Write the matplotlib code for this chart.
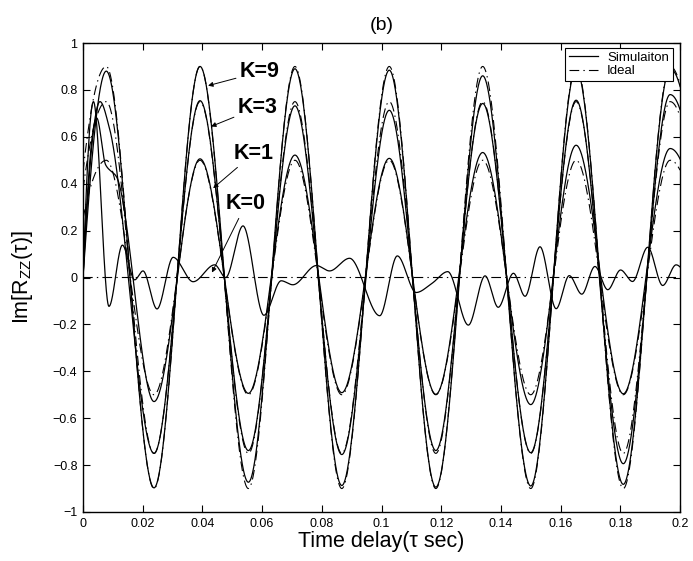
import numpy as np
import matplotlib
matplotlib.use("Agg")
import matplotlib.pyplot as plt
from matplotlib.ticker import FixedLocator, FuncFormatter

plt.rcParams['font.family'] = ['Liberation Sans', 'DejaVu Sans']
plt.rcParams['mathtext.fontset'] = 'custom'
plt.rcParams['mathtext.rm'] = 'Liberation Sans'
plt.rcParams['mathtext.default'] = 'regular'
plt.rcParams['lines.scale_dashes'] = False

# extrema (seconds); first/last entries lie outside the axis
ideal_t = [-0.0079, 0.0078, 0.0238, 0.0392, 0.0554, 0.0710, 0.0867, 0.1026,
           0.1182, 0.1339, 0.1500, 0.1652, 0.1810, 0.1967, 0.2127]
ideal_amp = {'K=9': 0.9, 'K=3': 0.75, 'K=1': 0.5, 'K=0': 0.0}

# simulated curves: (time, value) points
sim_k9_t = [0, 0.0078, 0.0238, 0.0392, 0.0554, 0.0710, 0.0867, 0.1026, 0.1182,
            0.1339, 0.1500, 0.1652, 0.1810, 0.1967, 0.2127]
sim_k9_v = [0, 0.88, -0.897, 0.90, -0.873, 0.89, -0.887, 0.884, -0.894,
            0.86, -0.889, 0.89, -0.882, 0.89, -0.88]

sim_k3_t = [0, 0.0057, 0.0088, 0.0238, 0.0392, 0.0554, 0.0710, 0.0867, 0.1026,
            0.1182, 0.1339, 0.1500, 0.1652, 0.1810, 0.1967, 0.2127]
sim_k3_v = [0, 0.75, 0.64, -0.75, 0.754, -0.738, 0.732, -0.755, 0.713,
            -0.738, 0.742, -0.747, 0.756, -0.794, 0.78, -0.75]

sim_k1_t = [0, 0.0046, 0.0076, 0.0112, 0.0238, 0.0392, 0.0554, 0.0710, 0.0867,
            0.1026, 0.1182, 0.1339, 0.1500, 0.1652, 0.1810, 0.1967, 0.2127]
sim_k1_v = [0, 0.68, 0.48, 0.43, -0.529, 0.506, -0.494, 0.522, -0.491,
            0.508, -0.498, 0.533, -0.542, 0.564, -0.496, 0.55, -0.5]

sim_k0_t = [0, 0.0035, 0.0087, 0.0132, 0.0173, 0.0201, 0.0248, 0.0302, 0.0369,
            0.0441, 0.0478, 0.0536, 0.0606, 0.0664, 0.0703, 0.0782, 0.0826,
            0.0893, 0.0994, 0.1053, 0.1116, 0.1170, 0.1222, 0.1291, 0.1347,
            0.1391, 0.1442, 0.1481, 0.1531, 0.1585, 0.1629, 0.1671, 0.1715,
            0.1758, 0.1801, 0.1841, 0.1892, 0.1942, 0.1987, 0.2]
sim_k0_v = [0, 0.75, -0.123, 0.138, -0.01, 0.028, -0.134, 0.086, -0.018,
            0.054, 0.0, 0.22, -0.161, -0.014, -0.031, 0.051, 0.028,
            0.082, -0.163, 0.092, -0.064, -0.024, 0.025, -0.203, 0.007,
            -0.127, 0.018, -0.08, 0.131, -0.133, 0.008, -0.071, 0.047,
            -0.052, 0.032, -0.017, 0.129, -0.034, 0.054, 0.045]

x_ticks = [0, 0.02, 0.04, 0.06, 0.08, 0.1, 0.12, 0.14, 0.16, 0.18, 0.2]
y_ticks = [-1, -0.8, -0.6, -0.4, -0.2, 0, 0.2, 0.4, 0.6, 0.8, 1]

labels = ['K=9', 'K=3', 'K=1', 'K=0']
label_xy = [(0.0593, 0.877), (0.0586, 0.725), (0.0573, 0.530), (0.0546, 0.314)]
arrow_xy = [(0.0419, 0.818), (0.0429, 0.644), (0.0436, 0.381), (0.0432, 0.021)]


def pchip(x, y, xs):
    # shape preserving cubic through the read points
    x = np.asarray(x, float)
    y = np.asarray(y, float)
    h = np.diff(x)
    d = np.diff(y) / h
    m = np.zeros_like(y)
    for k in range(1, len(x) - 1):
        if d[k - 1] * d[k] > 0:
            w1 = 2 * h[k] + h[k - 1]
            w2 = h[k] + 2 * h[k - 1]
            m[k] = (w1 + w2) / (w1 / d[k - 1] + w2 / d[k])

    def end(h0, h1, d0, d1):
        s = ((2 * h0 + h1) * d0 - h0 * d1) / (h0 + h1)
        if np.sign(s) != np.sign(d0):
            return 0.0
        if np.sign(d0) != np.sign(d1) and abs(s) > abs(3 * d0):
            return 3 * d0
        return s
    m[0] = end(h[0], h[1], d[0], d[1])
    m[-1] = end(h[-1], h[-2], d[-1], d[-2])
    i = np.clip(np.searchsorted(x, xs) - 1, 0, len(h) - 1)
    s = (xs - x[i]) / h[i]
    h00 = 2 * s**3 - 3 * s**2 + 1
    h10 = s**3 - 2 * s**2 + s
    h01 = -2 * s**3 + 3 * s**2
    h11 = s**3 - s**2
    return h00 * y[i] + h10 * h[i] * m[i] + h01 * y[i + 1] + h11 * h[i] * m[i + 1]


fig = plt.figure(figsize=(6.93, 5.61), dpi=100)
ax = fig.add_axes([83 / 693, 49 / 561, 597 / 693, 469 / 561])

dash = (0, (7, 3, 1, 3))
tt = np.linspace(-0.0079, 0.2127, 4000)
for lab in labels:
    a = ideal_amp[lab]
    vals = [a * (1 if k % 2 else -1) for k in range(len(ideal_t))]
    ax.plot(tt, pchip(ideal_t, vals, tt), color='k', lw=0.8, linestyle=dash)

for t, v in [(sim_k9_t, sim_k9_v), (sim_k3_t, sim_k3_v),
             (sim_k1_t, sim_k1_v), (sim_k0_t, sim_k0_v)]:
    ts = np.linspace(t[0], t[-1], 4000)
    ax.plot(ts, pchip(t, v, ts), color='k', lw=0.9)

for lab, txy, axy in zip(labels, label_xy, arrow_xy):
    ax.annotate(lab, xy=axy, xytext=txy, ha='center', va='center',
                fontsize=15.5, fontweight='bold',
                arrowprops=dict(arrowstyle='-|>', color='k', lw=0.7,
                                mutation_scale=7, shrinkA=1, shrinkB=0))

ax.set_xlim(0, 0.2)
ax.set_ylim(-1, 1)
ax.xaxis.set_major_locator(FixedLocator(x_ticks))
ax.yaxis.set_major_locator(FixedLocator(y_ticks))
fmt = FuncFormatter(lambda v, p: ('%g' % round(v, 4)).replace('-', '\u2212'))
ax.xaxis.set_major_formatter(fmt)
ax.yaxis.set_major_formatter(fmt)
ax.tick_params(direction='in', top=True, right=True, length=5, width=0.8,
               labelsize=9, pad=4)
for sp in ax.spines.values():
    sp.set_linewidth(1.0)

ax.set_xlabel('Time delay(τ sec)', fontsize=15.5, labelpad=1)
ax.set_ylabel('Im[R$_{ZZ}$(τ)]', fontsize=15.5, labelpad=13)
ax.set_title('(b)', fontsize=14, pad=9)

h_sim, = ax.plot([], [], color='k', lw=0.9)
h_ide, = ax.plot([], [], color='k', lw=0.8, linestyle=dash)
leg = ax.legend([h_sim, h_ide], ['Simulaiton', 'Ideal'], loc='upper right',
                bbox_to_anchor=(0.988, 0.99), fontsize=9.5, frameon=True,
                fancybox=False, edgecolor='k', framealpha=1,
                borderpad=0.3, labelspacing=0.1, handlelength=2.2,
                handletextpad=0.7, borderaxespad=0)
leg.get_frame().set_linewidth(0.8)

fig.savefig('out.png', dpi=100)
